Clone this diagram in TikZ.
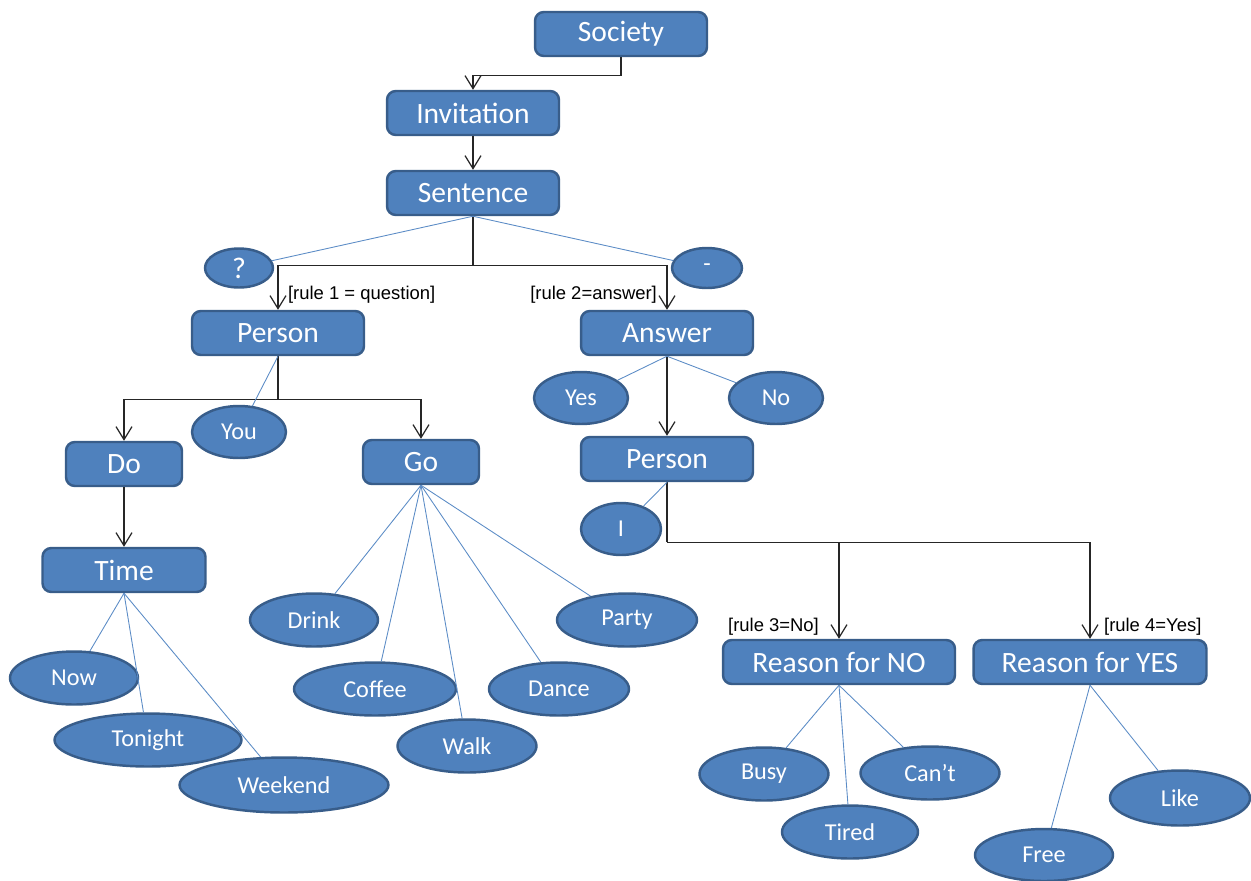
\documentclass[tikz,border=0pt]{standalone}
\usepackage{fontspec}
\setmainfont{Carlito}
\newfontfamily\rulefont{Liberation Sans}
\usetikzlibrary{shapes.geometric, arrows.meta, positioning}
\definecolor{boxblue}{RGB}{79,129,189}
\definecolor{boxedge}{RGB}{56,93,138}
\definecolor{twigblue}{RGB}{92,140,198}

\begin{document}
\begin{tikzpicture}[x=0.02cm, y=-0.02cm,
  box/.style={draw=boxedge, fill=boxblue, line width=1.4pt, rounded corners=5pt, minimum height=0.88cm, inner sep=0pt, text=white, font=\fontsize{16.8}{18}\selectfont},
  leaf/.style={ellipse, draw=boxedge, fill=boxblue, line width=1.4pt, minimum height=1.06cm, inner sep=0pt, text=white, font=\fontsize{13.8}{16}\selectfont},
  arr/.style={-{Straight Barb[length=2.6mm, width=3.2mm]}, black!85, line width=0.7pt},
  twig/.style={twigblue, line width=0.5pt},
  rulelbl/.style={font=\rulefont\fontsize{10.5}{12}\selectfont, inner sep=1pt}]
  \useasboundingbox (0,0) rectangle (1251,880);
  % Top of the tree
  \node[box, minimum width=3.44cm] (soc) at (621,34) {Society};
  \node[box, minimum width=3.44cm] (inv) at (473,113) {Invitation};
  \node[box, minimum width=3.44cm] (sent) at (473,193) {Sentence};
  \node[leaf, minimum width=1.36cm, minimum height=0.78cm, font=\fontsize{17}{18}\selectfont] (qmark) at (239,268) {?};
  \node[leaf, minimum width=1.4cm, minimum height=0.8cm] (dash) at (707,268) {-};
  % Question side
  \node[box, minimum width=3.44cm] (pers1) at (278,333) {Person};
  \node[leaf, minimum width=1.88cm, minimum height=1.04cm] (you) at (239,432) {You};
  \node[box, minimum width=2.32cm] (do) at (124,464) {Do};
  \node[box, minimum width=2.32cm] (go) at (421,462) {Go};
  \node[box, minimum width=3.26cm] (time) at (124,570) {Time};
  \node[leaf, minimum width=2.56cm] (now) at (74,678) {Now};
  \node[leaf, minimum width=3.74cm] (tonight) at (148,740) {Tonight};
  \node[leaf, minimum width=4.18cm, minimum height=1.1cm] (weekend) at (284,785) {Weekend};
  \node[leaf, minimum width=2.56cm] (drink) at (314,620) {Drink};
  \node[leaf, minimum width=2.8cm] (party) at (627,620) {Party};
  \node[leaf, minimum width=3.24cm] (coffee) at (375,689) {Coffee};
  \node[leaf, minimum width=2.8cm] (dance) at (559,689) {Dance};
  \node[leaf, minimum width=2.78cm] (walk) at (467,746) {Walk};
  % Answer side
  \node[box, minimum width=3.44cm] (ans) at (667,333) {Answer};
  \node[leaf, minimum width=1.88cm, minimum height=1.04cm] (yes) at (581,398) {Yes};
  \node[leaf, minimum width=1.88cm, minimum height=1.04cm] (no) at (776,398) {No};
  \node[box, minimum width=3.44cm] (pers2) at (667,459) {Person};
  \node[leaf, minimum width=1.6cm, minimum height=1.04cm] (i) at (621,529) {I};
  \node[box, minimum width=4.64cm] (rno) at (839,662) {Reason for NO};
  \node[box, minimum width=4.66cm] (ryes) at (1090,662) {Reason for YES};
  \node[leaf, minimum width=2.58cm] (busy) at (764,774) {Busy};
  \node[leaf, minimum width=2.72cm] (tired) at (850,832) {Tired};
  \node[leaf, minimum width=2.78cm] (cant) at (930,773) {Can’t};
  \node[leaf, minimum width=2.8cm, minimum height=1.1cm] (like) at (1180,798) {Like};
  \node[leaf, minimum width=2.76cm, minimum height=1.04cm] (free) at (1044,855) {Free};
  % Rule labels
  \node[rulelbl, anchor=west] (lbl1) at (286,295) {[rule 1 = question]};
  \node[rulelbl, anchor=east] (lbl2) at (659,295) {[rule 2=answer]};
  \node[rulelbl, anchor=east] (lbl3) at (821,627) {[rule 3=No]};
  \node[rulelbl, anchor=west] (lbl4) at (1102,627) {[rule 4=Yes]};
  % Arrows
  \draw[arr] (soc.south) -- ++(0,18) -| (inv.north);
  \draw[arr] (inv.south) -- (sent.north);
  \draw[black!85, line width=0.7pt] (sent.south) -- ++(0,49) coordinate (sj);
  \draw[arr] (sj) -| (pers1.north);
  \draw[arr] (sj) -| (ans.north);
  \draw[black!85, line width=0.7pt] (pers1.south) -- ++(0,43) coordinate (pj);
  \draw[arr] (pj) -| (do.north);
  \draw[arr] (pj) -| (go.north);
  \draw[arr] (do.south) -- (time.north);
  \draw[arr] (ans.south) -- (pers2.north);
  \draw[black!85, line width=0.7pt] (pers2.south) -- ++(0,60) coordinate (rj);
  \draw[arr] (rj) -| (rno.north);
  \draw[arr] (rj) -| (ryes.north);
  % Thin links
  \draw[twig] (sent.south) -- (qmark);
  \draw[twig] (sent.south) -- (dash);
  \draw[twig] (pers1.south) -- (you);
  \foreach \t in {now, tonight, weekend}
    \draw[twig] (time.south) -- (\t);
  \foreach \t in {drink, coffee, walk, dance, party}
    \draw[twig] (go.south) -- (\t);
  \draw[twig] (ans.south) -- (yes);
  \draw[twig] (ans.south) -- (no);
  \draw[twig] (pers2.south) -- (i);
  \foreach \t in {busy, tired, cant}
    \draw[twig] (rno.south) -- (\t);
  \draw[twig] (ryes.south) -- (free);
  \draw[twig] (ryes.south) -- (like);
\end{tikzpicture}
\end{document}
